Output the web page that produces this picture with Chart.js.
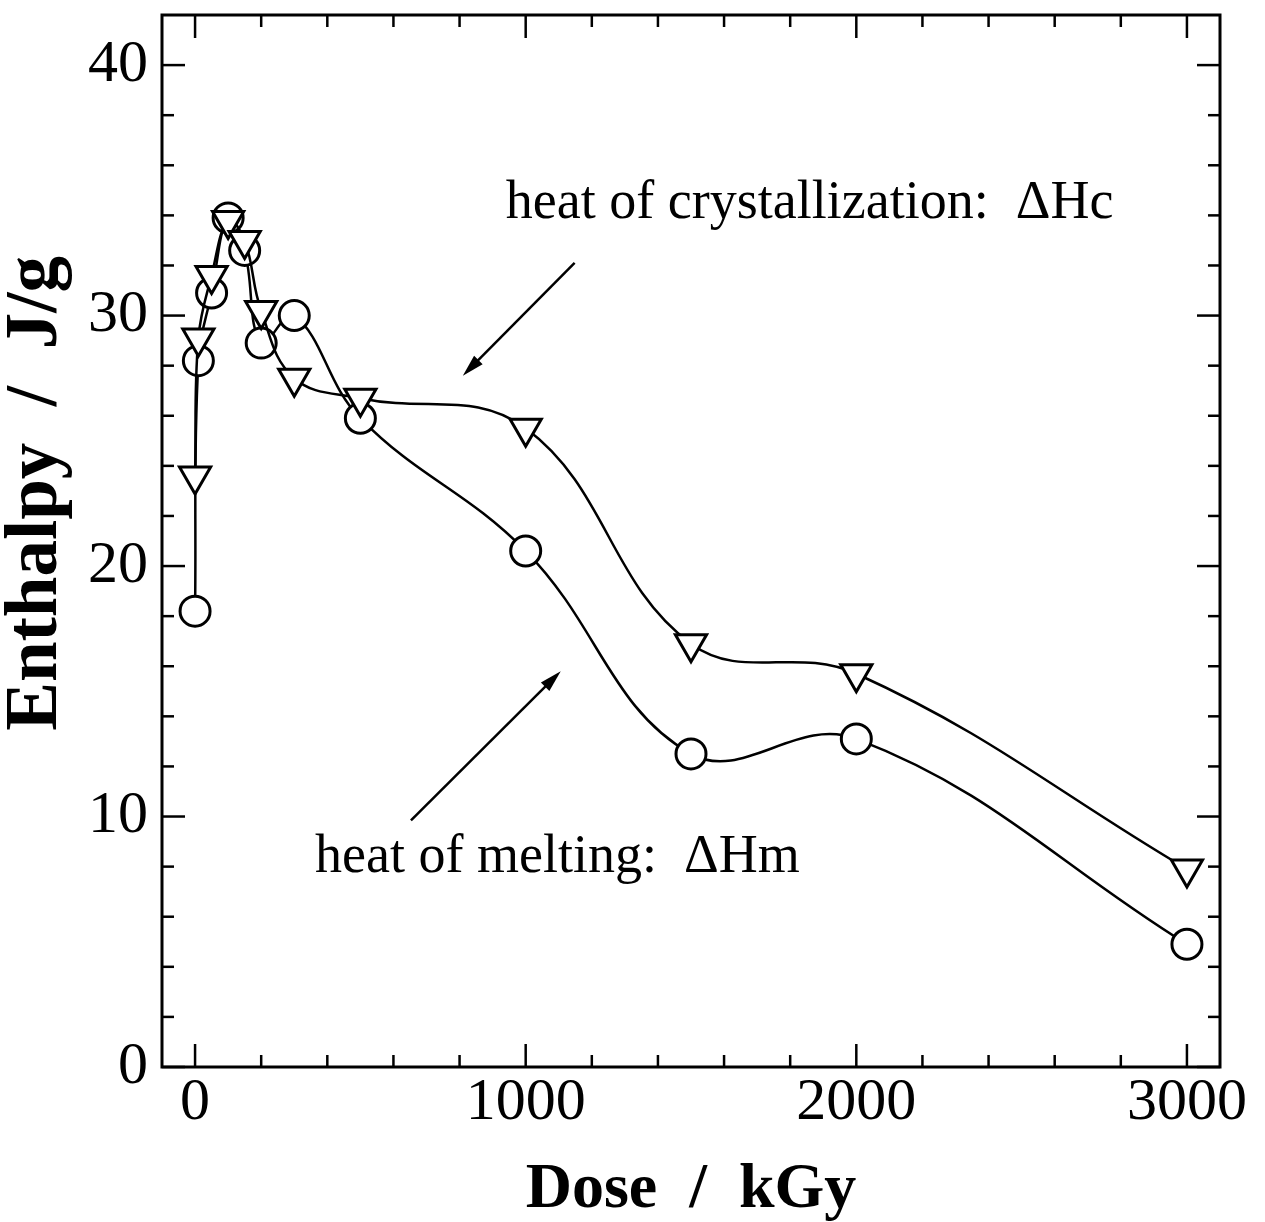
<!DOCTYPE html>
<html>
<head>
<meta charset="utf-8">
<script src="https://cdn.jsdelivr.net/npm/chart.js@4.4.1/dist/chart.umd.min.js"></script>
<style>
  html, body { margin: 0; padding: 0; background: #fff; }
  #wrap { width: 1265px; height: 1222px; }
</style>
</head>
<body>
<div id="wrap"><canvas id="c" width="1265" height="1222"></canvas></div>
<script>
// ---- data ----
const doseHm = [0, 10, 50, 100, 150, 200, 300, 500, 1000, 1500, 2000, 3000];
const enthalpyHm = [18.2, 28.2, 30.9, 33.9, 32.6, 28.9, 30.0, 25.9, 20.6, 12.5, 13.1, 4.9];
const doseHc = [0, 10, 50, 100, 150, 200, 300, 500, 1000, 1500, 2000, 3000];
const enthalpyHc = [23.6, 29.1, 31.6, 33.8, 33.0, 30.2, 27.5, 26.7, 25.5, 16.9, 15.7, 7.9];
const xTicks = [0, 200, 400, 600, 800, 1000, 1200, 1400, 1600, 1800, 2000, 2200, 2400, 2600, 2800, 3000];
const xLabeled = [0, 1000, 2000, 3000];
const yTicks = [0, 2, 4, 6, 8, 10, 12, 14, 16, 18, 20, 22, 24, 26, 28, 30, 32, 34, 36, 38, 40];
const yLabeled = [0, 10, 20, 30, 40];
const labelHc = 'heat of crystallization:  \u0394Hc';
const labelHm = 'heat of melting:  \u0394Hm';
const xTitle = 'Dose  /  kGy';
const yTitle = 'Enthalpy  /  J/g';

const SERIF = '"Liberation Serif", "Times New Roman", serif';

const toXY = (xs, ys) => xs.map((x, i) => ({x, y: ys[i]}));

// frame, inside ticks, annotations
const decor = {
  id: 'decor',
  beforeDatasetsDraw(chart) {
    const {ctx, chartArea: a, scales: {x, y}} = chart;
    ctx.save();
    ctx.strokeStyle = '#000';
    ctx.lineWidth = 3;
    ctx.strokeRect(a.left, a.top, a.right - a.left, a.bottom - a.top);
    ctx.lineWidth = 2.5;
    const seg = (x1, y1, x2, y2) => { ctx.beginPath(); ctx.moveTo(x1, y1); ctx.lineTo(x2, y2); ctx.stroke(); };
    x.ticks.forEach(t => {
      const p = x.getPixelForValue(t.value);
      const len = xLabeled.includes(t.value) ? 23 : 12;
      seg(p, a.bottom, p, a.bottom - len);
      seg(p, a.top, p, a.top + len);
    });
    y.ticks.forEach(t => {
      const p = y.getPixelForValue(t.value);
      const len = yLabeled.includes(t.value) ? 23 : 12;
      seg(a.left, p, a.left + len, p);
      seg(a.right, p, a.right - len, p);
    });
    ctx.restore();
  },
  afterDraw(chart) {
    const {ctx, scales: {x, y}} = chart;
    const X = v => x.getPixelForValue(v), Y = v => y.getPixelForValue(v);
    ctx.save();
    ctx.fillStyle = '#000';
    // y axis title
    ctx.save();
    ctx.translate(37, Y(22.9));
    ctx.rotate(-Math.PI / 2);
    ctx.font = 'bold 73px ' + SERIF;
    ctx.textAlign = 'center';
    ctx.textBaseline = 'middle';
    ctx.fillText(yTitle, 0, 0);
    ctx.restore();

    ctx.font = '54px ' + SERIF;
    ctx.textAlign = 'left';
    ctx.textBaseline = 'alphabetic';
    ctx.fillText(labelHc, X(940), Y(33.9));
    ctx.fillText(labelHm, X(363), Y(7.8));
    const arrow = (x1, y1, x2, y2) => {
      const ax = X(x1), ay = Y(y1), bx = X(x2), by = Y(y2);
      const ang = Math.atan2(by - ay, bx - ax);
      const L = 22, W = 6;
      ctx.lineWidth = 2.5;
      ctx.beginPath();
      ctx.moveTo(ax, ay);
      ctx.lineTo(bx - Math.cos(ang) * L * 0.8, by - Math.sin(ang) * L * 0.8);
      ctx.stroke();
      ctx.beginPath();
      ctx.moveTo(bx, by);
      ctx.lineTo(bx - Math.cos(ang) * L + Math.sin(ang) * W, by - Math.sin(ang) * L - Math.cos(ang) * W);
      ctx.lineTo(bx - Math.cos(ang) * L - Math.sin(ang) * W, by - Math.sin(ang) * L + Math.cos(ang) * W);
      ctx.closePath();
      ctx.fill();
    };
    arrow(1148, 32.1, 810, 27.6);
    arrow(653, 9.85, 1106, 15.8);
    ctx.restore();
  }
};

new Chart(document.getElementById('c'), {
  type: 'line',
  data: {
    datasets: [
      {
        label: 'ΔHc',
        data: toXY(doseHc, enthalpyHc),
        borderColor: '#000',
        borderWidth: 2.5,
        backgroundColor: '#fff',
        pointStyle: 'triangle',
        rotation: 180,
        pointRadius: 18,
        pointBorderWidth: 3,
        pointBackgroundColor: '#fff',
        pointBorderColor: '#000',
        tension: 0.4,
        fill: false
      },
      {
        label: 'ΔHm',
        data: toXY(doseHm, enthalpyHm),
        borderColor: '#000',
        borderWidth: 2.5,
        backgroundColor: '#fff',
        pointStyle: 'circle',
        pointRadius: 15,
        pointBorderWidth: 3,
        pointBackgroundColor: '#fff',
        pointBorderColor: '#000',
        tension: 0.4,
        fill: false
      }
    ]
  },
  options: {
    responsive: false,
    animation: false,
    devicePixelRatio: 1,
    layout: { autoPadding: false, padding: { top: 15, right: 45, bottom: 0, left: 0 } },
    plugins: { legend: { display: false }, tooltip: { enabled: false } },
    scales: {
      x: {
        type: 'linear',
        min: -100, max: 3100,
        grid: { display: false, drawTicks: false },
        border: { display: false },
        afterBuildTicks: s => { s.ticks = xTicks.map(v => ({value: v})); },
        afterFit: s => { s.height = 155; s.paddingLeft = 0; s.paddingRight = 0; },
        ticks: {
          autoSkip: false, maxRotation: 0, padding: 0, color: '#000',
          font: { family: SERIF, size: 60 },
          callback: v => xLabeled.includes(v) ? String(v) : ''
        },
        title: {
          display: true, text: xTitle, color: '#000',
          font: { family: SERIF, size: 64, weight: 'bold', lineHeight: 1 },
          padding: { top: 0, bottom: 0 }
        }
      },
      y: {
        min: 0, max: 42,
        grid: { display: false, drawTicks: false },
        border: { display: false },
        afterBuildTicks: s => { s.ticks = yTicks.map(v => ({value: v})); },
        afterFit: s => { s.width = 162; s.paddingTop = 0; s.paddingBottom = 0; },
        ticks: {
          autoSkip: false, padding: 14, color: '#000',
          font: { family: SERIF, size: 60 },
          callback: v => yLabeled.includes(v) ? String(v) : ''
        },
        title: { display: false }
      }
    }
  },
  plugins: [decor]
});
</script>
</body>
</html>
